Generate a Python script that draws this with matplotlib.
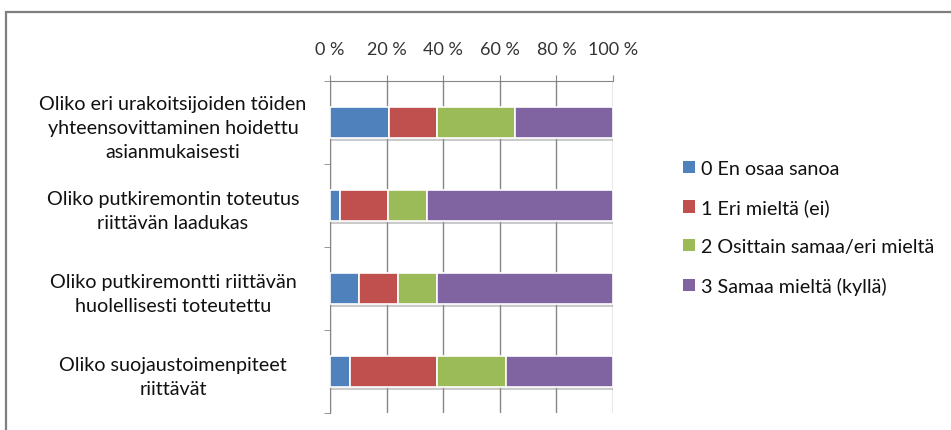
import numpy as np
import matplotlib
matplotlib.use("Agg")
import matplotlib.pyplot as plt
import matplotlib.patheffects as pe
from matplotlib.patches import Rectangle, Patch
from matplotlib.ticker import FuncFormatter

plt.rcParams['font.family'] = ['Lato', 'DejaVu Sans']

# survey questions, top to bottom
questions = [
    "Oliko eri urakoitsijoiden töiden\nyhteensovittaminen hoidettu\nasianmukaisesti",
    "Oliko putkiremontin toteutus\nriittävän laadukas",
    "Oliko putkiremontti riittävän\nhuolellisesti toteutettu",
    "Oliko suojaustoimenpiteet\nriittävät",
]
answers = ["0 En osaa sanoa", "1 Eri mieltä (ei)",
           "2 Osittain samaa/eri mieltä", "3 Samaa mieltä (kyllä)"]
colors = ["#4F81BD", "#C0504D", "#9BBB59", "#8064A2"]

# share of answers (%) per question
en_osaa = [20.7, 3.4, 10.3, 6.9]
eri = [17.2, 17.2, 13.8, 31.0]
osittain = [27.6, 13.8, 13.8, 24.1]
samaa = [34.5, 65.5, 62.1, 37.9]
shares = [en_osaa, eri, osittain, samaa]

fig = plt.figure(figsize=(9.51, 4.31), dpi=100)
ax = fig.add_axes([0.347, 0.0394, 0.2977, 0.7703])

y = np.arange(len(questions))
left = np.zeros(len(questions))
shadow = [pe.SimplePatchShadow(offset=(1, -2), shadow_rgbFace='#999999', alpha=0.5), pe.Normal()]
for vals, col in zip(shares, colors):
    bars = ax.barh(y, vals, left=left, height=0.37, color=col,
                   edgecolor='white', linewidth=1.2, zorder=3)
    for b in bars:
        b.set_path_effects(shadow)
    left += np.array(vals)

ax.set_xlim(0, 100)
ax.set_ylim(len(questions) - 0.5, -0.5)
ax.xaxis.tick_top()
ax.set_xticks(np.arange(0, 101, 20))
ax.xaxis.set_major_formatter(FuncFormatter(lambda v, p: f"{int(v)} %"))
ax.tick_params(axis='x', length=4, color='#868686', pad=13, labelsize=13,
               labelcolor='#333333')
ax.grid(axis='x', color='#868686', linewidth=1, zorder=0)

# question labels are centred about a point left of the axis
ax.set_yticks(y)
ax.set_yticklabels(questions, ha='center', fontsize=14.2, linespacing=1.5,
                   color='#111111')
ax.tick_params(axis='y', length=0, pad=113)
ax.set_yticks(np.arange(len(questions) + 1) - 0.5, minor=True)
ax.tick_params(axis='y', which='minor', length=4, color='#868686')

for side in ['right', 'bottom']:
    ax.spines[side].set_visible(False)
ax.spines['top'].set_color('#868686')
ax.spines['left'].set_color('#868686')

handles = [Patch(facecolor=c, edgecolor='none') for c in colors]
leg = fig.legend(handles, answers, loc='upper left', bbox_to_anchor=(0.7, 0.668),
                 frameon=False, fontsize=14.2, handlelength=0.6, handleheight=0.6,
                 handletextpad=0.3, labelspacing=1.1, labelcolor='#111111')

# chart frame
fig.add_artist(Rectangle((0.0068, -0.1), 1.1, 1.07, transform=fig.transFigure,
                         fill=False, edgecolor='#7f7f7f', linewidth=1.6))

fig.savefig('out.png', dpi=100)
